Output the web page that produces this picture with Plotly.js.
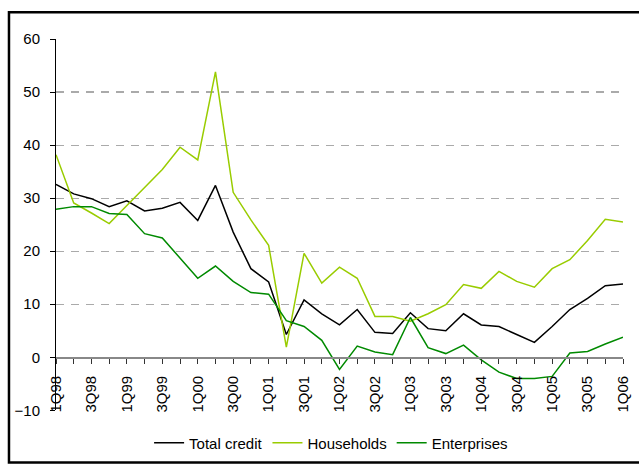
<!DOCTYPE html>
<html>
<head>
<meta charset="utf-8">
<script src="https://cdn.plot.ly/plotly-3.0.1.min.js"></script>
<style>html,body{margin:0;padding:0;background:#fff;}#chart{width:639px;height:464px;}</style>
</head>
<body>
<div id="chart"></div>
<script>
const quarters = ["1Q98","2Q98","3Q98","4Q98","1Q99","2Q99","3Q99","4Q99","1Q00","2Q00","3Q00","4Q00",
  "1Q01","2Q01","3Q01","4Q01","1Q02","2Q02","3Q02","4Q02","1Q03","2Q03","3Q03","4Q03",
  "1Q04","2Q04","3Q04","4Q04","1Q05","2Q05","3Q05","4Q05","1Q06"];
const totalCredit = [32.6,30.8,29.9,28.4,29.5,27.6,28.1,29.2,25.8,32.4,23.6,16.7,14.2,4.3,10.8,8.2,6.1,
  9.0,4.7,4.5,8.4,5.4,5.0,8.2,6.1,5.8,4.3,2.8,5.8,9.0,11.1,13.5,13.8];
const households = [38.2,29.1,27.2,25.2,28.6,32.0,35.4,39.6,37.2,53.8,31.1,25.9,21.1,1.9,19.6,14.0,17.0,
  14.9,7.7,7.7,6.8,8.2,9.9,13.7,13.0,16.2,14.3,13.2,16.7,18.4,22.0,26.0,25.5];
const enterprises = [27.9,28.4,28.4,27.1,26.9,23.3,22.5,18.7,14.9,17.2,14.3,12.2,11.9,6.9,5.8,3.2,-2.3,
  2.1,1.0,0.5,7.5,1.8,0.7,2.3,-0.5,-2.8,-4.0,-4.0,-3.6,0.8,1.1,2.5,3.8];
const tickLabels = quarters.map((q, i) => (i % 2 === 0 ? q : ""));
const yTicks = [-10,0,10,20,30,40,50,60];

const font = "'Liberation Sans', Arial, sans-serif";
const traces = [
  {x: quarters, y: totalCredit, name: "Total credit", type: "scatter", mode: "lines",
   line: {color: "#000000", width: 1.5}},
  {x: quarters, y: households, name: "Households", type: "scatter", mode: "lines",
   line: {color: "#99cc00", width: 1.5}},
  {x: quarters, y: enterprises, name: "Enterprises", type: "scatter", mode: "lines",
   line: {color: "#008a00", width: 1.5}}
];

// page geometry (pixels)
const W = 639, H = 464, L = 56, R = 16.2, T = 38.7, B = 4;
const plotBottom = 410.3;
const pw = W - L - R, ph = H - T - B;
const px = v => (v - L) / pw;
const py = v => (H - B - v) / ph;
const d0 = py(plotBottom);
const zeroPos = d0 + (1 - d0) / 7;

const layout = {
  width: W, height: H,
  margin: {l: L, r: R, t: T, b: B, pad: 0},
  paper_bgcolor: "#ffffff", plot_bgcolor: "#ffffff",
  font: {family: font, size: 15, color: "#000"},
  showlegend: true,
  legend: {orientation: "h", x: px(331), xanchor: "center", y: py(443), yanchor: "middle",
           font: {family: font, size: 15, color: "#000"}, itemgap: 8, bgcolor: "rgba(0,0,0,0)"},
  xaxis: {type: "category", range: [0, 32], anchor: "free", position: zeroPos,
          tickmode: "array", tickvals: quarters, ticktext: tickLabels, tickangle: -90,
          ticks: "outside", ticklen: 5, tickcolor: "#333", tickwidth: 1,
          showline: true, linecolor: "#888", linewidth: 1.5, showgrid: false, zeroline: false,
          ticklabelstandoff: 6,
          tickfont: {family: font, size: 15, color: "#000"}, fixedrange: true},
  yaxis: {domain: [d0, 1], range: [-10, 60], tickmode: "array", tickvals: yTicks, ticks: "outside", ticklen: 5,
          tickcolor: "#000", showline: true, linecolor: "#000", linewidth: 1,
          showgrid: true, gridcolor: "#aaaaaa", gridwidth: 1.2, griddash: "8px,7px", zeroline: false,
          ticklabelstandoff: 7, tickfont: {family: font, size: 15, color: "#000"}, fixedrange: true},
  shapes: [
    {type: "rect", xref: "paper", yref: "paper", x0: px(9), x1: px(660), y0: py(12), y1: py(462.5),
     line: {color: "#000", width: 2.5}, fillcolor: "rgba(0,0,0,0)", layer: "above"}
  ]
};

Plotly.newPlot("chart", traces, layout, {displayModeBar: false, staticPlot: true});
</script>
</body>
</html>
